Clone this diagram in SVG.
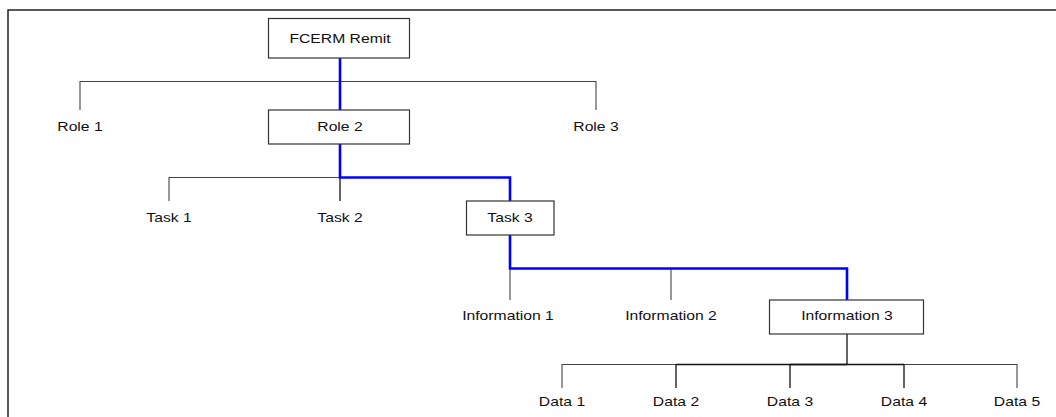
<svg xmlns="http://www.w3.org/2000/svg" width="1056" height="417" viewBox="0 0 1056 417">
<style>
.box{fill:#fff;stroke:#333;stroke-width:1.2}
.lbl{font-family:"Liberation Sans",Arial,sans-serif;font-size:13px;fill:#111;text-anchor:middle}
.ln{fill:none;stroke:#444;stroke-width:1.1}
.dk{fill:none;stroke:#111;stroke-width:1.3}
.hl{fill:none;stroke:#0000ff;stroke-width:2.6;stroke-linejoin:miter}
</style>
<rect x="0" y="0" width="1056" height="417" fill="#fff"/>
<rect x="8" y="10" width="1100" height="500" fill="none" stroke="#222" stroke-width="1.5"/>
<g id="connectors">
  <path class="ln" d="M80,110 V81.5 H596 V110"/>
  <path class="ln" d="M169,201 V177.5 H340"/>
  <path class="dk" d="M340,177.5 V201"/>
  <path class="ln" d="M510,268.5 V300 M671,268.5 V300"/>
  <path class="ln" d="M562,388 V364.5 H1017 V388"/>
  <path class="dk" d="M676,364.5 H904"/>
  <path class="dk" d="M790,364.5 H847" stroke-width="2"/>
  <path class="dk" d="M847,334 V364.5 M676,364.5 V388 M790,364.5 V388 M904,364.5 V388"/>
  <path class="hl" d="M340,58 V110"/>
  <path class="hl" d="M340,144 V177.5 H510 V201"/>
  <path class="hl" d="M510,235 V268.5 H847 V300"/>
</g>
<g id="fcerm"><rect class="box" x="268.5" y="18.5" width="141" height="39.5"/><text class="lbl" transform="translate(340,43) scale(1.21,1)">FCERM Remit</text></g>
<g id="role1"><text class="lbl" transform="translate(80,131) scale(1.21,1)">Role 1</text></g>
<g id="role2"><rect class="box" x="268.5" y="110" width="141" height="34"/><text class="lbl" transform="translate(340,131) scale(1.21,1)">Role 2</text></g>
<g id="role3"><text class="lbl" transform="translate(596,131) scale(1.21,1)">Role 3</text></g>
<g id="task1"><text class="lbl" transform="translate(169,222) scale(1.21,1)">Task 1</text></g>
<g id="task2"><text class="lbl" transform="translate(340,222) scale(1.21,1)">Task 2</text></g>
<g id="task3"><rect class="box" x="466.5" y="201" width="87.5" height="34"/><text class="lbl" transform="translate(510,222) scale(1.21,1)">Task 3</text></g>
<g id="info1"><text class="lbl" transform="translate(508,320) scale(1.21,1)">Information 1</text></g>
<g id="info2"><text class="lbl" transform="translate(671,320) scale(1.21,1)">Information 2</text></g>
<g id="info3"><rect class="box" x="769.5" y="300" width="154" height="34"/><text class="lbl" transform="translate(847,320) scale(1.21,1)">Information 3</text></g>
<g id="data1"><text class="lbl" transform="translate(562,406) scale(1.21,1)">Data 1</text></g>
<g id="data2"><text class="lbl" transform="translate(676,406) scale(1.21,1)">Data 2</text></g>
<g id="data3"><text class="lbl" transform="translate(790,406) scale(1.21,1)">Data 3</text></g>
<g id="data4"><text class="lbl" transform="translate(904,406) scale(1.21,1)">Data 4</text></g>
<g id="data5"><text class="lbl" transform="translate(1017,406) scale(1.21,1)">Data 5</text></g>
</svg>
